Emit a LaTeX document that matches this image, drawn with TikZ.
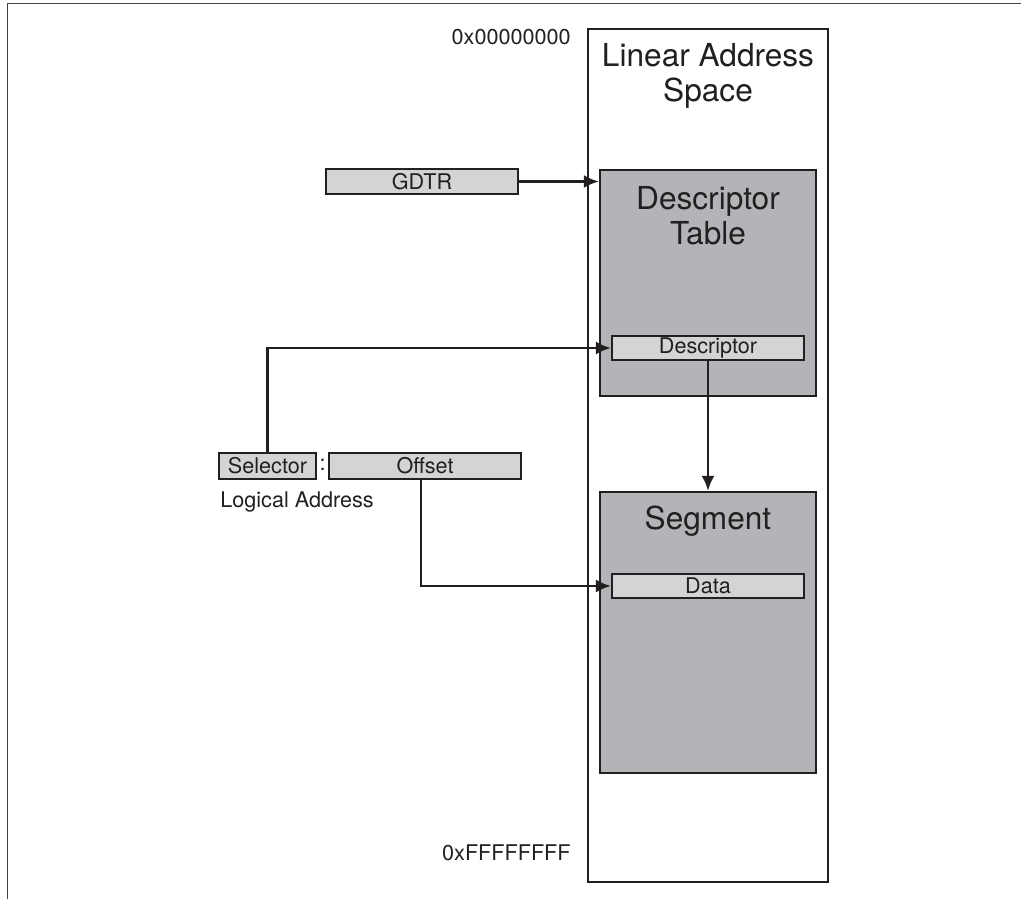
\documentclass[tikz,border=0pt]{standalone}
\usepackage{fontspec}
\setmainfont{TeX Gyre Heros}
\usepackage{xcolor}
\usetikzlibrary{arrows.meta,positioning,calc}

\definecolor{inkdark}{HTML}{231F20}
\definecolor{tablegray}{HTML}{B3B4B7}
\definecolor{entrygray}{HTML}{D3D4D6}

\tikzset{
    regbox/.style={draw=inkdark, fill=entrygray, line width=1.3pt, inner sep=0pt,
        font=\fontsize{12.3}{14}\selectfont, text=inkdark},
    tablebox/.style={draw=inkdark, fill=tablegray, line width=1.4pt, inner sep=0pt},
    spacebox/.style={draw=inkdark, fill=white, line width=1.5pt, inner sep=0pt},
    bigtitle/.style={font=\fontsize{18}{20}\selectfont, text=inkdark, align=center, inner sep=0pt},
    plainlabel/.style={font=\fontsize{12.3}{14}\selectfont, text=inkdark, inner sep=0pt},
    link/.style={draw=inkdark, line width=1.3pt, -{Latex[length=0.3cm,width=0.26cm]}}
}

\begin{document}
\begin{tikzpicture}[x=0.02cm, y=-0.02cm]
    \useasboundingbox (0,0) rectangle (1021,899);

    % Frame edges
    \draw[inkdark!85, line width=1.1pt] (7.5,899) -- (7.5,3.5) -- (1021,3.5);

    % Linear address space
    \node[spacebox, minimum width=4.8cm, minimum height=17.06cm] (las) at (708,455.5) {};
    \node[bigtitle, anchor=north] (lastitle) at ([yshift=-0.3cm]las.north) {Linear Address\\Space};
    \node[plainlabel, anchor=east] (addrlow) at (571,37) {0x00000000};
    \node[plainlabel, anchor=east] (addrhigh) at (571,853) {0xFFFFFFFF};

    % Descriptor table and its entry
    \node[tablebox, minimum width=4.32cm, minimum height=4.52cm] (dtable) at (708,283) {};
    \node[bigtitle, anchor=north] (dtitle) at ([yshift=-0.34cm]dtable.north) {Descriptor\\Table};
    \node[regbox, minimum width=3.84cm, minimum height=0.48cm] (desc) at (708,348) {Descriptor};

    % Segment and its data
    \node[tablebox, minimum width=4.32cm, minimum height=5.62cm] (seg) at (708,632.5) {};
    \node[bigtitle, anchor=north] (segtitle) at ([yshift=-0.29cm]seg.north) {Segment};
    \node[regbox, minimum width=3.84cm, minimum height=0.48cm] (data) at (708,586) {Data};

    % Registers and logical address
    \node[regbox, minimum width=3.84cm, minimum height=0.5cm] (gdtr) at (422,181.5) {GDTR};
    \node[regbox, minimum width=1.94cm, minimum height=0.52cm] (sel) at (267.5,466) {Selector};
    \node[plainlabel] (colon) at (322.5,465) {:};
    \node[regbox, minimum width=3.84cm, minimum height=0.52cm] (off) at (425,466) {Offset};
    \node[plainlabel, anchor=west] (logaddr) at (220,502) {Logical Address};

    % Connections
    \draw[link] (gdtr.east) -- (gdtr.east -| dtable.west);
    \draw[link] (sel.north) |- (desc.west);
    \draw[link] (desc.south) -- (seg.north);
    \draw[link] ([xshift=-0.08cm]off.south) |- (data.west);
\end{tikzpicture}
\end{document}
